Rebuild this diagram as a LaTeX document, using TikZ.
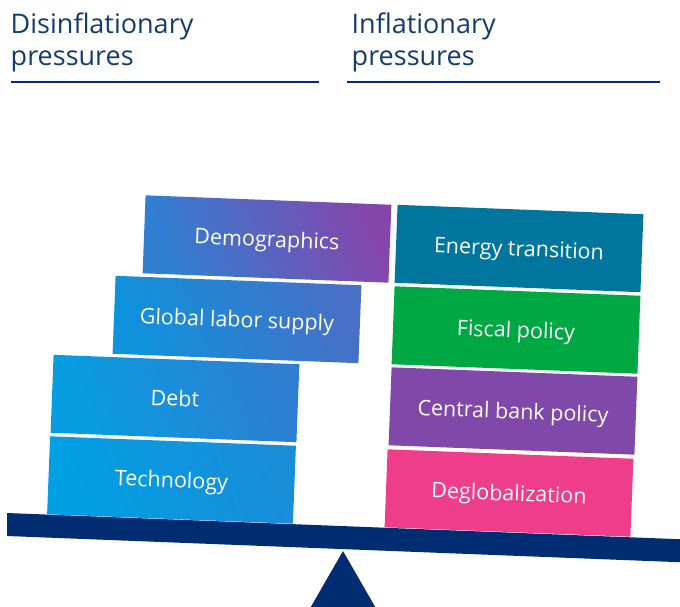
\documentclass[tikz,border=0pt]{standalone}
\usepackage{fontspec}
\setmainfont{Open Sans}
\definecolor{navy}{HTML}{002D72}
\definecolor{headtxt}{HTML}{133C6E}
\definecolor{energyc}{HTML}{00759E}
\definecolor{fiscalc}{HTML}{00A843}
\definecolor{centralc}{HTML}{7F48A9}
\definecolor{deglobc}{HTML}{EE3D8A}
\definecolor{techL}{HTML}{00A0E3}
\definecolor{techR}{HTML}{1A8DD9}
\definecolor{debtL}{HTML}{069EE1}
\definecolor{debtR}{HTML}{2E7ED2}
\definecolor{globL}{HTML}{0F92DC}
\definecolor{globR}{HTML}{4770C6}
\definecolor{demoL}{HTML}{2F80D3}
\definecolor{demoR}{HTML}{8546AB}
\begin{document}
\begin{tikzpicture}[x=1pt,y=-1pt,
  blk/.style={minimum width=246pt, minimum height=78pt, inner sep=0pt, rotate=-2.2,
    text=white, text height=15.5pt, text depth=0pt,
    font=\fontsize{21.5}{26}\selectfont},
  grad/.style 2 args={shading=axis, bottom color=#1, top color=#2, shading angle=-68},
  head/.style={anchor=north west, align=left, inner sep=0pt, text=headtxt,
    font=\fontsize{27}{32}\selectfont},
  rule/.style={navy, line width=2.5pt}]
\useasboundingbox (0,0) rectangle (680,606);
\clip (0,0) rectangle (680,606);

% headers
\node[head] (hdis) at (10.5,12.5) {Disinflationary\\pressures};
\node[head] (hinf) at (351.5,12.5) {Inflationary\\pressures};
\draw[rule] (11,82) -- (319,82);
\draw[rule] (347,82) -- (660,82);

% fulcrum and beam
\fill[navy] (343,551) -- (385,624) -- (301,624) -- cycle;
\fill[navy] (7,513) -- (700,540) -- (700,563) -- (7,536) -- cycle;

% left stack
\node[blk, grad={techL}{techR}] (tech) at (171.5,480) {Technology};
\node[blk, grad={debtL}{debtR}] (debt) at (175,398.5) {Debt};
\node[blk, grad={globL}{globR}] (glob) at (237,319.5) {Global labor supply};
\node[blk, grad={demoL}{demoR}] (demo) at (267,239) {Demographics};

% right stack
\node[blk, fill=deglobc] (deglob) at (509,493) {Deglobalization};
\node[blk, fill=centralc] (central) at (513,411) {Central bank policy};
\node[blk, fill=fiscalc] (fiscal) at (516,330) {Fiscal policy};
\node[blk, fill=energyc] (energy) at (519,248.5) {Energy transition};
\end{tikzpicture}
\end{document}
